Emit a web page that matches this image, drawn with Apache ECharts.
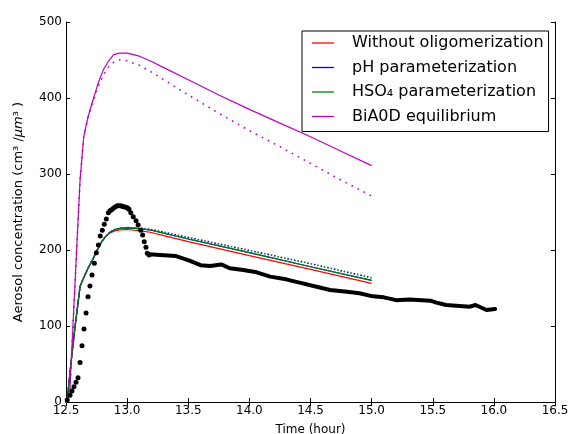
<!DOCTYPE html>
<html>
<head>
<meta charset="utf-8">
<script src="https://cdn.jsdelivr.net/npm/echarts@6/dist/echarts.min.js"></script>
<style>html,body{margin:0;padding:0;background:#fff;overflow:hidden}#c{width:570px;height:434px}</style>
</head>
<body>
<div id="c"></div>
<script>
// ---- data ----
const xTicks = [12.5, 13.0, 13.5, 14.0, 14.5, 15.0, 15.5, 16.0, 16.5];
const yTicks = [0, 100, 200, 300, 400, 500];

const legendNames = ['Without oligomerization', 'pH parameterization', 'HSO\u2084 parameterization', 'BiA0D equilibrium'];

// BiA0D equilibrium (magenta)
const biaTime   = [12.5,12.53,12.56,12.59,12.615,12.645,12.68,12.72,12.76,12.805,12.85,12.89,12.94,13.0,13.1,13.2,13.3,13.5,13.75,14.0,14.25,14.5,14.75,15.0];
const biaSolid  = [0,10,110,210,292,349,375,397,418,437,449,457,459,459,455,448,440,424,404,385,367,349,330,311];
const biaDotted = [0,10,110,210,292,349,374,395,414,430,441,447,450,449,443,434,424,404,380,357,336,314,292,271];

// oligomerization models (red / blue / green)
const modTime   = [12.5,12.51,12.54,12.574,12.615,12.64,12.68,12.72,12.78,12.82,12.86,12.9,12.94,13.0,13.1,13.2,13.3,13.5,14.0,14.5,15.0];
const noOligo   = [0,3,50,99,152,162,176,188,208,217,222.5,225,226.5,227,225.5,223,219,211,192.5,174.5,156];
const phParam   = [0,3,50,99,152,162,176,188,208,217,223.5,227,228.5,229,228,226,222,214.5,196.5,178,160];
const hso4Param = [0,3,50,99,152,162,176,188,208,217,223.5,227,228.5,229,228,226,222,214.5,196.5,178,160];
const phDotted  = [0,3,50,99,152,162,176,188,208,217,223.5,227,228.5,229.5,229,227,223.5,216.5,199.5,182,163.5];

// observations (black)
const obsTimeA = [12.51,12.533,12.549,12.565,12.582,12.598,12.615,12.631,12.647,12.664,12.68,12.696,12.713,12.732,12.748,12.765,12.78,12.797,12.813,12.83,12.846,12.86,12.873,12.887,12.901,12.915,12.928,12.942,12.955,12.969,12.982,12.996,13.006,13.015,13.03,13.05,13.073,13.09,13.11,13.127,13.14,13.154,13.165,13.18];
const obsValA  = [2.6,9,14.5,20,26,32,52,74,96,117,138.6,152.6,167,182.5,196.5,206.6,218.4,226,233.8,240.8,249,251.7,253,254.8,256.5,257.9,258.3,258.3,257.8,257,256.5,256,255,253.5,249,243.8,238.6,232.9,226,219.7,211,203.5,195.6,193.4];
const obsTimeB = [13.18,13.27,13.40,13.51,13.60,13.68,13.77,13.84,13.95,14.06,14.17,14.30,14.41,14.55,14.66,14.80,14.90,15.01,15.10,15.20,15.31,15.48,15.53,15.61,15.72,15.80,15.85,15.94,16.01];
const obsValB  = [194.5,193.4,192,186,180,179,181,176,173.7,170.6,165,161.4,157,151.7,147.4,145,143,139,137.7,134,135,133.3,130.7,127.6,126.3,125.4,127.6,121,122.4];

const zip = (t, v) => t.map((x, i) => [x, v[i]]);

const FONT = 'DejaVu Sans';
const C = {red:'#ff0000', blue:'#0000ff', green:'#008000', mag:'#bf00bf'};

function lineSeries(name, t, v, color, dotted, z, offset) {
  return {
    name, type: 'line', data: zip(t, v), showSymbol: false, symbol: 'none',
    smooth: false, z, silent: true, animation: false,
    lineStyle: { color, width: dotted ? 1.6 : 1.2, type: dotted ? [1.6, 5.2] : 'solid', dashOffset: offset || 0 },
    itemStyle: { color }
  };
}

const chart = echarts.init(document.getElementById('c'), null, {renderer: 'canvas'});
const axisCommon = {
  axisLine: {show: true, lineStyle: {color: '#000', width: 1}},
  splitLine: {show: false}
};
chart.setOption({
  animation: false,
  backgroundColor: '#fff',
  textStyle: {fontFamily: FONT},
  grid: {left: 66, right: 15, top: 22, bottom: 32, containLabel: false, outerBoundsMode: 'none'},
  legend: {
    orient: 'vertical', left: 302, top: 31,
    data: legendNames.map(n => ({name: n, icon: 'rect'})),
    itemWidth: 22, itemHeight: 1.3, itemGap: 8.5,
    padding: [4, 5, 7, 10],
    borderColor: '#000', borderWidth: 1, borderRadius: 0,
    backgroundColor: '#fff',
    textStyle: {fontFamily: FONT, fontSize: 16, color: '#000', lineHeight: 14, padding: [0, 0, 0, 13]},
    selectedMode: false
  },
  xAxis: [{
    type: 'value', min: xTicks[0], max: xTicks[xTicks.length - 1], interval: 0.5,
    name: 'Time (hour)', nameLocation: 'middle', nameGap: 22,
    nameTextStyle: {fontFamily: FONT, fontSize: 12, color: '#000'},
    axisTick: {show: true, inside: true, length: 4, lineStyle: {color: '#000'}},
    axisLabel: {color: '#000', fontFamily: FONT, fontSize: 12, margin: 3, formatter: v => v.toFixed(1)},
    ...axisCommon
  }, {
    type: 'value', position: 'top', min: xTicks[0], max: xTicks[xTicks.length - 1], interval: 0.5,
    axisTick: {show: true, inside: true, length: 4, lineStyle: {color: '#000'}},
    axisLabel: {show: false}, ...axisCommon
  }],
  yAxis: [{
    type: 'value', min: yTicks[0], max: yTicks[yTicks.length - 1], interval: 100,
    name: '{n|Aerosol concentration (cm\u00b3 /}{i|\u03bcm}{n|\u00b3 )}', nameLocation: 'middle', nameGap: 41,
    nameTextStyle: {fontFamily: FONT, fontSize: 13, color: '#000',
      rich: {n: {fontFamily: FONT, fontSize: 13, color: '#000'}, i: {fontFamily: FONT, fontSize: 13, fontStyle: 'italic', color: '#000'}}},
    axisTick: {show: true, inside: true, length: 4, lineStyle: {color: '#000'}},
    axisLabel: {color: '#000', fontFamily: FONT, fontSize: 12, margin: 4},
    ...axisCommon
  }, {
    type: 'value', position: 'right', min: yTicks[0], max: yTicks[yTicks.length - 1], interval: 100,
    axisTick: {show: true, inside: true, length: 4, lineStyle: {color: '#000'}},
    axisLabel: {show: false}, ...axisCommon
  }],
  series: [
    lineSeries('pH dotted', modTime, phDotted, C.blue, true, 2, 0),
    lineSeries('HSO4 dotted', modTime, phDotted, C.green, true, 3, 3.4),
    lineSeries(legendNames[0], modTime, noOligo, C.red, false, 4),
    lineSeries(legendNames[1], modTime, phParam, C.blue, false, 5),
    lineSeries(legendNames[2], modTime, hso4Param, C.green, false, 6),
    lineSeries('BiA0D dotted', biaTime, biaDotted, C.mag, true, 7, 0),
    lineSeries(legendNames[3], biaTime, biaSolid, C.mag, false, 8),
    {
      name: 'obs line', type: 'line', data: zip(obsTimeB, obsValB), showSymbol: false, symbol: 'none',
      lineStyle: {color: '#000', width: 4, cap: 'round', join: 'round'}, z: 9, silent: true
    },
    {
      name: 'obs', type: 'scatter', data: zip(obsTimeA, obsValA), symbol: 'circle', symbolSize: 5,
      itemStyle: {color: '#000', opacity: 1}, z: 10, silent: true
    }
  ]
});
</script>
</body>
</html>
